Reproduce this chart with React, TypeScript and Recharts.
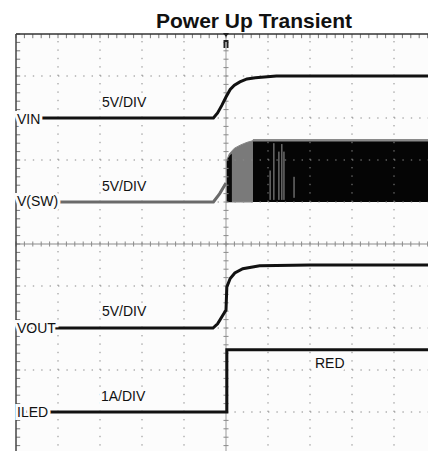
import { ComposedChart, Line, Area, XAxis, YAxis, ReferenceLine, ReferenceDot } from 'recharts';

// scope screen: 10 x 10 divisions, time along x, divisions along y (0 = bottom)
const gridTicks = [1, 2, 3, 4, 6, 7, 8, 9];
const minorTicks = Array.from({ length: 51 }, (_, i) => i / 5);

const vin = [
  { t: 0, v: 8.0 }, { t: 4.7, v: 8.0 }, { t: 4.8, v: 8.12 }, { t: 4.9, v: 8.3 },
  { t: 5.0, v: 8.5 }, { t: 5.1, v: 8.68 }, { t: 5.2, v: 8.78 }, { t: 5.33, v: 8.86 },
  { t: 5.5, v: 8.93 }, { t: 5.7, v: 8.96 }, { t: 6.2, v: 9.0 }, { t: 10, v: 9.0 },
];

const swIdle = [
  { t: 0, v: 6.0 }, { t: 4.7, v: 6.0 }, { t: 4.85, v: 6.2 }, { t: 5.0, v: 6.45 },
];
const swGrey = [
  { t: 5.0, band: [6.0, 6.95] }, { t: 5.08, band: [6.0, 7.15] }, { t: 5.2, band: [6.0, 7.28] },
  { t: 5.35, band: [6.0, 7.36] }, { t: 5.5, band: [6.0, 7.42] }, { t: 5.64, band: [6.0, 7.46] },
];
const swDarkStart = [
  { t: 5.02, band: [6.0, 7.0] }, { t: 5.1, band: [6.0, 7.12] }, { t: 5.14, band: [6.0, 7.15] },
];
const swDark = [
  { t: 5.64, band: [6.0, 7.47] }, { t: 10, band: [6.0, 7.47] },
];
const swEdge = [
  { t: 5.64, v: 7.47 }, { t: 10, v: 7.47 },
];
const swGlitches = [
  { t: 6.05, lo: 6.05, hi: 6.75 },
  { t: 6.14, lo: 6.05, hi: 7.4 },
  { t: 6.26, lo: 6.05, hi: 7.2 },
  { t: 6.33, lo: 6.05, hi: 7.38 },
  { t: 6.38, lo: 6.05, hi: 7.2 },
  { t: 6.62, lo: 6.1, hi: 6.6 },
];

const vout = [
  { t: 0, v: 3.0 }, { t: 4.69, v: 3.0 }, { t: 4.8, v: 3.1 }, { t: 4.92, v: 3.3 },
  { t: 5.0, v: 3.43 }, { t: 5.02, v: 3.98 }, { t: 5.1, v: 4.18 }, { t: 5.21, v: 4.31 },
  { t: 5.4, v: 4.41 }, { t: 5.8, v: 4.48 }, { t: 7, v: 4.5 }, { t: 10, v: 4.5 },
];

const iled = [
  { t: 0, v: 1.0 }, { t: 5.02, v: 1.0 }, { t: 5.02, v: 2.48 }, { t: 10, v: 2.48 },
];

const bg = '#fcfcfc';
const font = '"Liberation Sans", Arial, sans-serif';

const TriggerMark = (props: any) => {
  const { cx, cy } = props;
  return (
    <g>
      <polygon points={`${cx - 3},${cy - 1} ${cx + 3},${cy - 1} ${cx},${cy + 3}`} fill="#222" />
      <rect x={cx - 2.5} y={cy + 6} width={5} height={8} fill="#222" />
      <line x1={cx} y1={cy + 8} x2={cx} y2={cy + 14} stroke="#fff" strokeWidth={1} />
    </g>
  );
};

const labelStyle = {
  fontFamily: font,
  fontSize: 14,
  fill: '#111',
  stroke: bg,
  strokeWidth: 6,
  paintOrder: 'stroke',
} as any;

export default function App() {
  return (
    <div style={{ position: 'absolute', left: 0, top: 0, width: 428, height: 451, overflow: 'hidden', background: '#fff' }}>
      <div style={{ position: 'absolute', left: 0, top: 0 }}>
        <ComposedChart width={440} height={460} margin={{ top: 34, left: 16, right: 4, bottom: 6 }}>
          <rect x={16} y={34} width={420} height={420} fill={bg} />
          <XAxis type="number" dataKey="t" domain={[0, 10]} hide allowDataOverflow />
          <YAxis type="number" domain={[0, 10]} hide allowDataOverflow />
          {gridTicks.map((g) => (
            <ReferenceLine key={`gx${g}`} x={g} stroke="#8a8a8a" strokeDasharray="1.4 7" />
          ))}
          {gridTicks.map((g) => (
            <ReferenceLine key={`gy${g}`} y={g} stroke="#8a8a8a" strokeDasharray="1.4 7" />
          ))}
          <ReferenceLine x={5} stroke="#9a9a9a" strokeWidth={1} />
          <ReferenceLine y={5} stroke="#8a8a8a" strokeWidth={1} />
          {minorTicks.map((m) => (
            <ReferenceLine key={`hx${m}`} segment={[{ x: m, y: 4.94 }, { x: m, y: 5.06 }]} stroke="#8a8a8a" />
          ))}
          {minorTicks.map((m) => (
            <ReferenceLine key={`vy${m}`} segment={[{ x: 4.94, y: m }, { x: 5.06, y: m }]} stroke="#8a8a8a" />
          ))}
          {minorTicks.map((m) => (
            <ReferenceLine key={`tx${m}`} segment={[{ x: m, y: 10 }, { x: m, y: 9.9 }]} stroke="#777" />
          ))}
          {minorTicks.map((m) => (
            <ReferenceLine key={`ly${m}`} segment={[{ x: 0, y: m }, { x: 0.1, y: m }]} stroke="#777" />
          ))}
          <ReferenceLine y={10} stroke="#333" strokeWidth={1.5} />
          <ReferenceLine x={0} stroke="#444" strokeWidth={1.5} />

          <Area data={swGrey} dataKey="band" type="linear" fill="#7a7a7a" fillOpacity={1} stroke="#888" strokeWidth={1} isAnimationActive={false} />
          <Area data={swDarkStart} dataKey="band" type="linear" fill="#0a0a0a" fillOpacity={1} stroke="none" isAnimationActive={false} />
          <Area data={swDark} dataKey="band" type="linear" fill="#050505" fillOpacity={1} stroke="none" isAnimationActive={false} />
          {swGlitches.map((g) => (
            <ReferenceLine key={`g${g.t}`} segment={[{ x: g.t, y: g.lo }, { x: g.t, y: g.hi }]} stroke="#9a9a9a" strokeWidth={1} />
          ))}
          <Line data={swEdge} dataKey="v" type="linear" stroke="#8a8a8a" strokeWidth={2.5} dot={false} isAnimationActive={false} />
          <Line data={swIdle} dataKey="v" type="linear" stroke="#6a6a6a" strokeWidth={3} dot={false} isAnimationActive={false} />

          <Line data={vin} dataKey="v" type="linear" stroke="#111" strokeWidth={3} dot={false} isAnimationActive={false} />
          <Line data={vout} dataKey="v" type="linear" stroke="#111" strokeWidth={3} dot={false} isAnimationActive={false} />
          <Line data={iled} dataKey="v" type="linear" stroke="#111" strokeWidth={3} dot={false} isAnimationActive={false} />

          <ReferenceDot x={5} y={10} r={3} shape={TriggerMark} />
        </ComposedChart>
      </div>
      <svg width={428} height={451} style={{ position: 'absolute', left: 0, top: 0 }}>
        <text x={254} y={28} textAnchor="middle" fontFamily={font} fontSize={21} fontWeight="bold" fill="#111">
          Power Up Transient
        </text>
        <text x={102} y={107} style={labelStyle}>5V/DIV</text>
        <text x={17} y={124} style={labelStyle}>VIN</text>
        <text x={102} y={191} style={labelStyle}>5V/DIV</text>
        <text x={17} y={206} style={labelStyle}>V(SW)</text>
        <text x={102} y={316} style={labelStyle}>5V/DIV</text>
        <text x={17} y={333} style={labelStyle}>VOUT</text>
        <text x={315} y={368} style={labelStyle}>RED</text>
        <text x={101} y={401} style={labelStyle}>1A/DIV</text>
        <text x={17} y={417} style={labelStyle}>ILED</text>
      </svg>
    </div>
  );
}
